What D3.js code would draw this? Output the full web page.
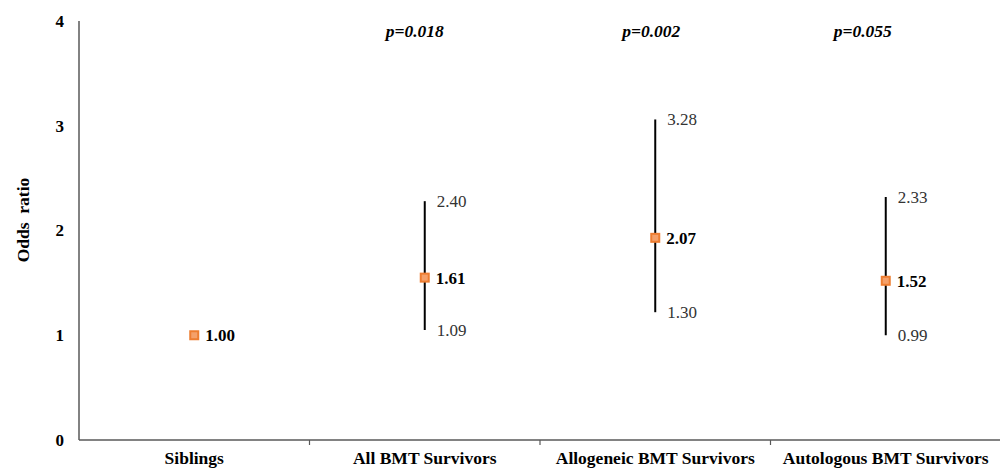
<!DOCTYPE html>
<html><head><meta charset="utf-8">
<script src="https://cdn.jsdelivr.net/npm/d3@7"></script>
<style>body{margin:0;background:#fff}svg{display:block}text{font-family:"Liberation Serif","Times New Roman",serif}</style>
</head><body><svg id="c" width="1000" height="469"></svg>
<script>
const categories = ["Siblings", "All BMT Survivors", "Allogeneic BMT Survivors", "Autologous BMT Survivors"];
// plotted positions
const pointValues = [1.00, 1.55, 1.93, 1.52];
const lowerValues = [null, 1.05, 1.22, 1.00];
const upperValues = [null, 2.28, 3.06, 2.32];
// printed labels
const pointLabels = ["1.00", "1.61", "2.07", "1.52"];
const lowerLabels = [null, "1.09", "1.30", "0.99"];
const upperLabels = [null, "2.40", "3.28", "2.33"];
const pLabels = [null, "p=0.018", "p=0.002", "p=0.055"];
const yTicks = [0, 1, 2, 3, 4];

(function () {
const svg = d3.select("#c");
const mLeft = 79, mRight = 1001, mTop = 21, mBottom = 440;
const x = d3.scaleBand().domain(categories).range([mLeft, mRight]);
const y = d3.scaleLinear().domain([0, 4]).range([mBottom, mTop]);
const axisColor = "#595959";

svg.append("line").attr("x1", mLeft).attr("x2", mLeft).attr("y1", y(4)).attr("y2", y(0))
  .attr("stroke", axisColor).attr("stroke-width", 1.5);
svg.append("line").attr("x1", mLeft).attr("x2", 1000).attr("y1", y(0)).attr("y2", y(0))
  .attr("stroke", axisColor).attr("stroke-width", 1.5);
categories.slice(1).forEach(c => {
  svg.append("line").attr("x1", x(c)).attr("x2", x(c)).attr("y1", y(0)).attr("y2", y(0) + 5)
    .attr("stroke", axisColor).attr("stroke-width", 1.2);
});

svg.selectAll(".yt").data(yTicks).enter().append("text")
  .attr("x", 64).attr("y", d => y(d)).attr("dy", "0.35em").attr("text-anchor", "end")
  .attr("font-size", 17).attr("font-weight", "bold").attr("fill", "#000").text(d => d);

svg.append("text").attr("transform", "translate(29,220) rotate(-90)").attr("text-anchor", "middle")
  .attr("font-size", 17.5).attr("font-weight", "bold").style("white-space", "pre").text("Odds  ratio");

svg.selectAll(".cl").data(categories).enter().append("text")
  .attr("x", d => x(d) + x.bandwidth() / 2).attr("y", 464).attr("text-anchor", "middle")
  .attr("font-size", 17.5).attr("font-weight", "bold").text(d => d);

const cx = i => x(categories[i]) + x.bandwidth() / 2;

categories.forEach((c, i) => {
  if (lowerValues[i] == null) return;
  svg.append("line").attr("x1", cx(i)).attr("x2", cx(i)).attr("y1", y(upperValues[i])).attr("y2", y(lowerValues[i]))
    .attr("stroke", "#000").attr("stroke-width", 2);
  svg.append("text").attr("x", cx(i) + 12).attr("y", y(upperValues[i])).attr("dy", "0.35em")
    .attr("font-size", 17).attr("fill", "#333").text(upperLabels[i]);
  svg.append("text").attr("x", cx(i) + 12).attr("y", y(lowerValues[i])).attr("dy", "0.35em")
    .attr("font-size", 17).attr("fill", "#333").text(lowerLabels[i]);
});

categories.forEach((c, i) => {
  svg.append("rect").attr("x", cx(i) - 4).attr("y", y(pointValues[i]) - 4).attr("width", 8).attr("height", 8)
    .attr("fill", "#F4A06A").attr("stroke", "#ED7D31").attr("stroke-width", 2);
  svg.append("text").attr("x", cx(i) + 11).attr("y", y(pointValues[i])).attr("dy", "0.35em")
    .attr("font-size", 17).attr("font-weight", "bold").text(pointLabels[i]);
});

const pOffsets = [0, -10, -4, -23];
pLabels.forEach((p, i) => {
  if (!p) return;
  svg.append("text").attr("x", cx(i) + pOffsets[i]).attr("y", 31).attr("dy", "0.35em").attr("text-anchor", "middle")
    .attr("font-size", 17.5).attr("font-weight", "bold").attr("font-style", "italic").text(p);
});
})();
</script></body></html>
